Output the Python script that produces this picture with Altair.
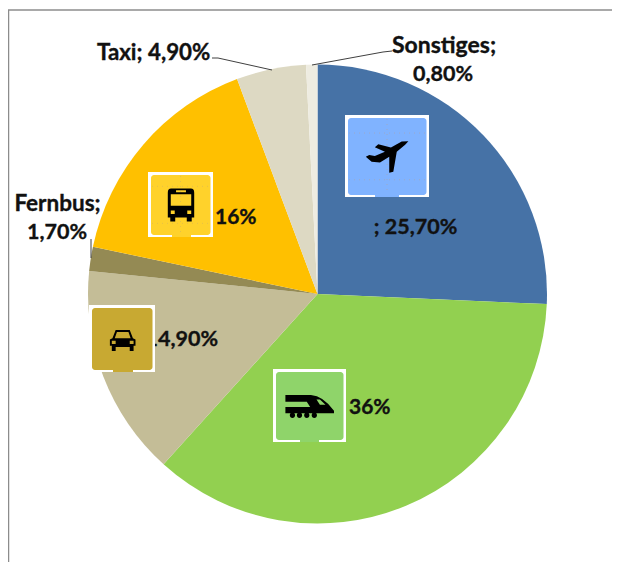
import altair as alt
import pandas as pd

categories = ["Flugzeug", "Bahn", "Pkw", "Fernbus", "Bus", "Taxi", "Sonstiges"]
shares = [25.7, 36.0, 14.9, 1.7, 16.0, 4.9, 0.8]
colors = ["#4672A6", "#92D050", "#C4BD97", "#948A54", "#FFC000", "#DDD9C3", "#EEECE1"]
order = list(range(len(categories)))

W, H = 604, 554
FONT = "Lato"
# reference pixel -> chart pixel
def X(v): return v - 8
def Y(v): return v - 8

pie_df = pd.DataFrame({"cat": categories, "share": shares, "idx": order})
pie = alt.Chart(pie_df).mark_arc(outerRadius=229.5, stroke=None).encode(
    theta=alt.Theta("share:Q", stack=True),
    order=alt.Order("idx:Q"),
    color=alt.Color("cat:N", scale=alt.Scale(domain=categories, range=colors), legend=None),
    x=alt.value(X(317.5)),
    y=alt.value(Y(294)),
)

anchor = pd.DataFrame({"a": [0]})

def rule(x1, y1, x2, y2, color="#404040", width=1.0, dash=None):
    kw = dict(color=color, strokeWidth=width)
    if dash:
        kw["strokeDash"] = dash
    return alt.Chart(anchor).mark_rule(**kw).encode(
        x=alt.value(X(x1)), y=alt.value(Y(y1)), x2=alt.value(X(x2)), y2=alt.value(Y(y2)))

def rect(x1, y1, x2, y2, color, radius=0):
    kw = dict(color=color)
    if radius:
        kw["cornerRadius"] = radius
    return alt.Chart(anchor).mark_rect(**kw).encode(
        x=alt.value(X(x1)), y=alt.value(Y(y1)), x2=alt.value(X(x2)), y2=alt.value(Y(y2)))

def label(text, x, y, align="center", size=21.5):
    return alt.Chart(pd.DataFrame({"t": [text]})).mark_text(
        font=FONT, fontSize=size, fontWeight="bold", color="#111111",
        stroke="#111111", strokeWidth=0.35,
        align=align, baseline="middle").encode(
        text="t:N", x=alt.value(X(x)), y=alt.value(Y(y)))

def glyph(path, x, y, span):
    return alt.Chart(anchor).mark_point(
        shape=path, filled=True, color="#000000", opacity=1, size=span * span, strokeWidth=0
    ).encode(x=alt.value(X(x)), y=alt.value(Y(y)))

def icon(x1, y1, x2, y2, fill, tab, guides=None):
    parts = [rect(x1, y1, x2, y2, "#FFFFFF"),
             rect(x1 + 3, y1 + 3, x2 - 2.5, y2 - 2, fill, 3),
             rect(tab[0], y2 - 4, tab[1], y2, fill)]
    if guides:
        c = guides
        h = y2 - y1
        parts += [rule(x1 + 4, y1 + h * 0.22, x2 - 4, y1 + h * 0.22, c, 1, [1, 4]),
                  rule(x1 + 4, y1 + h * 0.79, x2 - 4, y1 + h * 0.79, c, 1, [1, 4]),
                  rule((x1 + x2) / 2, y1 + 4, (x1 + x2) / 2, y2 - 4, c, 1, [1, 4])]
    return parts

PLANE = ("M0.98,-0.69 L0.83,-0.52 L0.44,-0.2 L0.28,0.73 L0.09,0.78 L0.09,0.03 L-0.34,0.3 "
         "L-0.73,0.27 L-1,0.03 L-0.84,-0.05 L-0.58,0 L-0.11,-0.2 L-0.58,-0.41 L-0.42,-0.55 "
         "L0.17,-0.39 L0.67,-0.67 Z")
BUS = ("M-0.6,-1 L0.6,-1 Q0.8,-1 0.8,-0.75 L0.8,0.75 L0.65,0.75 L0.65,1 L0.35,1 L0.35,0.75 "
       "L-0.35,0.75 L-0.35,1 L-0.65,1 L-0.65,0.75 L-0.8,0.75 L-0.8,-0.75 Q-0.8,-1 -0.6,-1 Z "
       "M-0.62,-0.65 L-0.62,0.05 L0.62,0.05 L0.62,-0.65 Z "
       "M-0.62,0.33 L-0.62,0.55 L-0.38,0.55 L-0.38,0.33 Z "
       "M0.38,0.33 L0.38,0.55 L0.62,0.55 L0.62,0.33 Z "
       "M-0.3,-0.9 L-0.3,-0.78 L0.3,-0.78 L0.3,-0.9 Z")
CAR = ("M-0.55,-0.83 L0.55,-0.83 L0.8,-0.2 L1,-0.1 L1,0.4 L0.85,0.4 L0.85,0.8 L0.55,0.8 L0.55,0.5 "
       "L-0.55,0.5 L-0.55,0.8 L-0.85,0.8 L-0.85,0.4 L-1,0.4 L-1,-0.1 L-0.8,-0.2 Z "
       "M-0.45,-0.68 L-0.62,-0.2 L0.62,-0.2 L0.45,-0.68 Z "
       "M-0.85,0 L-0.85,0.25 L-0.55,0.25 L-0.55,0 Z "
       "M0.55,0 L0.55,0.25 L0.85,0.25 L0.85,0 Z")
wheels = " ".join(
    f"M{c-0.11:.2f},0.38 A0.11,0.11 0 1 1 {c+0.11:.2f},0.38 A0.11,0.11 0 1 1 {c-0.11:.2f},0.38 Z"
    for c in (-0.71, -0.42, -0.12, 0.19))
TRAIN = ("M-1,-0.45 L0.05,-0.45 Q0.55,-0.42 1,0.2 L1,0.3 L-1,0.3 L-1,0.04 L0.02,0.04 L-0.12,-0.18 L-1,-0.18 Z "
         "M0.28,-0.27 L0.42,-0.05 L0.65,-0.05 L0.42,-0.27 Z " + wheels)

layers = [
    rule(8, 10, 620, 10, "#8C8C8C", 1.5),
    rule(8.5, 10, 8.5, 571, "#8C8C8C", 1.5),
    pie,
    rule(212, 58, 218, 58), rule(218, 58, 272, 70),
    rule(392, 51, 383, 52), rule(383, 52, 312, 65),
    rule(91, 239, 91, 258),
    label("; 25,70%", 415.5, 228),
    label("36%", 349, 408, "left", 21),
    label("16%", 215, 218, "left", 21),
    label("14,90%", 218, 340, "right"),
    label("Fernbus;", 57.5, 204, "center", 22.5),
    label("1,70%", 57, 233),
    label("Taxi; 4,90%", 97, 53, "left", 22.3),
    label("Sonstiges;", 444, 46, "center", 23),
    label("0,80%", 443, 75),
]
layers += icon(345, 115, 429, 197, "#80B3FF", (375, 399), "#9CA9C8")
layers += [glyph(PLANE, 387.3, 156, 43)]
layers += icon(148, 172, 213, 237, "#FFD22B", (172, 191), "#E5C04A")
layers += [glyph(BUS, 181, 205, 33)]
layers += icon(89, 305, 155, 372, "#C8A932", (113, 133))
layers += [glyph(CAR, 122.7, 340.7, 25.6)]
layers += icon(273, 369, 346, 442, "#8FD46A", (300, 319))
layers += [glyph(TRAIN, 309.7, 406, 48.6)]

chart = alt.layer(*layers).properties(
    width=W, height=H, padding=0, autosize=alt.AutoSizeParams(type="none"),
    background="#FFFFFF"
).configure_view(stroke=None)

chart.save("out.html", embed_options={"renderer": "svg", "actions": False})
